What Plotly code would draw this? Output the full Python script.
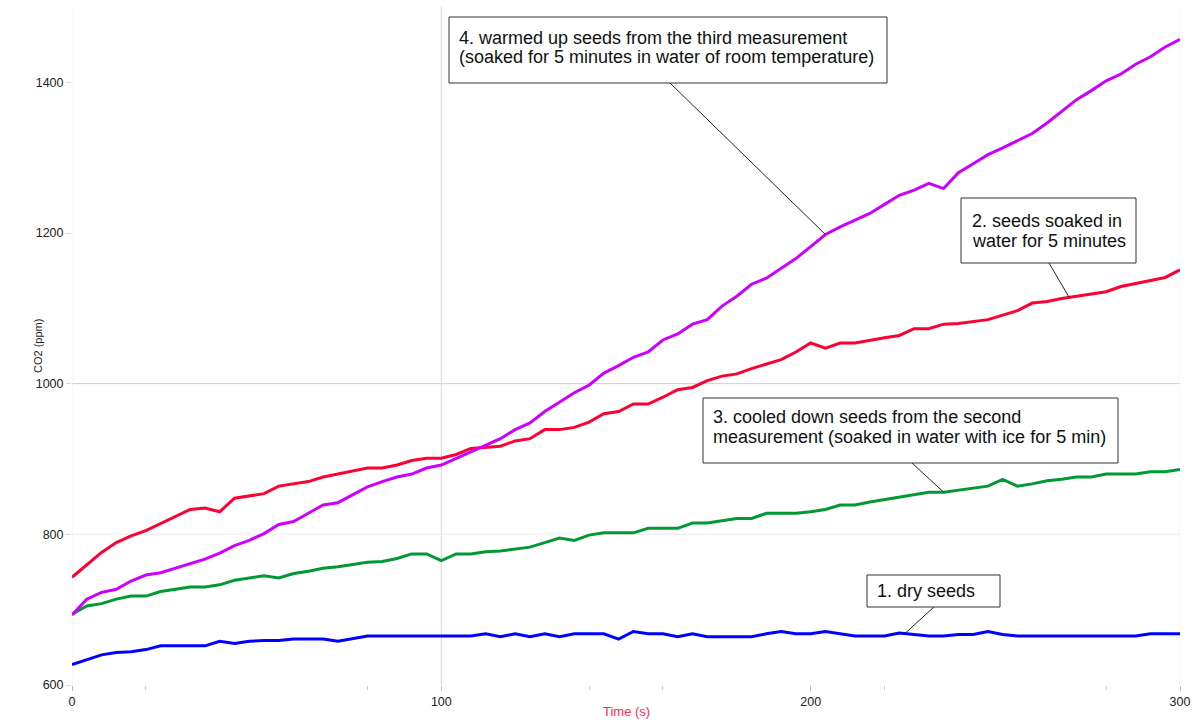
import numpy as np
import plotly.graph_objects as go

# time axis (s), samples every 4 s
T = list(range(0, 301, 4))

dry_seeds = [627, 633, 640, 643, 644, 647, 652, 652, 652, 652,
             658, 655, 658, 659, 659, 661, 661, 661, 658, 662,
             665, 665, 665, 665, 665, 665, 665, 665, 668, 664,
             668, 664, 668, 664, 668, 668, 668, 661, 671, 668,
             668, 664, 668, 664, 664, 664, 664, 668, 671, 668,
             668, 671, 668, 665, 665, 665, 669, 667, 665, 665,
             667, 667, 671, 667, 665, 665, 665, 665, 665, 665,
             665, 665, 665, 668, 668, 668]

soaked = [743, 759, 776, 789, 798, 805, 814, 823, 833, 835,
          830, 848, 851, 854, 864, 867, 870, 876, 880, 883,
          888, 888, 892, 898, 901, 901, 906, 914, 916, 917,
          924, 927, 939, 939, 942, 949, 960, 963, 973, 973,
          982, 992, 995, 1004, 1010, 1013, 1020, 1026, 1032, 1042,
          1054, 1047, 1054, 1054, 1058, 1061, 1064, 1073, 1073, 1079,
          1080, 1082, 1085, 1091, 1097, 1107, 1109, 1113, 1116, 1119,
          1122, 1129, 1133, 1138, 1141, 1151]

cooled = [694, 705, 708, 714, 718, 718, 724, 727, 730, 730,
          733, 739, 742, 745, 742, 748, 751, 755, 757, 760,
          763, 764, 768, 774, 774, 765, 774, 774, 777, 778,
          780, 783, 789, 795, 792, 799, 802, 802, 802, 808,
          808, 808, 815, 815, 818, 821, 821, 828, 828, 828,
          830, 833, 839, 839, 843, 846, 850, 853, 856, 856,
          859, 862, 864, 873, 864, 867, 871, 873, 876, 876,
          880, 880, 880, 883, 883, 886]

warmed = [693, 714, 723, 727, 738, 746, 749, 755, 760, 767,
          775, 785, 792, 801, 813, 817, 828, 839, 842, 853,
          863, 870, 876, 880, 888, 892, 901, 909, 918, 927,
          939, 948, 963, 976, 988, 998, 1014, 1024, 1035, 1042,
          1058, 1066, 1079, 1085, 1103, 1116, 1132, 1140, 1153, 1166,
          1182, 1198, 1208, 1217, 1226, 1238, 1250, 1257, 1266, 1259,
          1280, 1292, 1304, 1313, 1322, 1332, 1346, 1361, 1377, 1389,
          1402, 1411, 1424, 1434, 1447, 1457]

x_ticks = [0, 100, 200, 300]
y_ticks = [600, 800, 1000, 1200, 1400]

labels = [["1. dry seeds"],
          ["2. seeds soaked in", "water for 5 minutes"],
          ["3. cooled down seeds from the second",
           "measurement (soaked in water with ice for 5 min)"],
          ["4. warmed up seeds from the third measurement",
           "(soaked for 5 minutes in water of room temperature)"]]

FONT = "Arial, 'Liberation Sans', sans-serif"

# layout geometry (pixels)
W, H = 1194, 720
ML, MR, MT, MB = 72, 14, 7, 35
XR = (0, 300)
YR = (600, 1500)


def px2t(px):
    return XR[0] + (px - ML) / (W - ML - MR) * (XR[1] - XR[0])


def py2v(py):
    return YR[1] - (py - MT) / (H - MT - MB) * (YR[1] - YR[0])


fig = go.Figure()
series = [(dry_seeds, "#0000ff"), (cooled, "#009933"), (soaked, "#ff0033"), (warmed, "#cc00ff")]
for ys, col in series:
    fig.add_trace(go.Scatter(x=T, y=ys, mode="lines",
                             line=dict(color=col, width=3), showlegend=False))

# reference lines
shapes = [
    dict(type="line", xref="x", yref="paper", x0=100, x1=100, y0=0, y1=1,
         line=dict(color="#d6d6d6", width=1), layer="below"),
    dict(type="line", xref="paper", yref="y", x0=0, x1=1, y0=1000, y1=1000,
         line=dict(color="#cfcfcf", width=1), layer="below"),
    dict(type="line", xref="paper", yref="y", x0=0, x1=1, y0=800, y1=800,
         line=dict(color="#ececec", width=1), layer="below"),
    dict(type="line", xref="x", yref="paper", x0=300, x1=300, y0=0, y1=1,
         line=dict(color="#f2f2f2", width=1), layer="below"),
    dict(type="line", xref="x", yref="paper", x0=0, x1=0, y0=0, y1=1,
         line=dict(color="#f0f0f0", width=1), layer="below"),
]


def on(series_vals, t):
    return float(np.interp(t, T, series_vals))


# leader lines: box edge (pixels) -> point on the curve (time)
leaders = [
    ((935, 606), 225.5, dry_seeds),
    ((1049, 263), 270.0, soaked),
    ((912, 463), 236.0, cooled),
    ((670, 83), 204.0, warmed),
]
for (bx, by), t, vals in leaders:
    shapes.append(dict(type="line", xref="x", yref="y", x0=px2t(bx), y0=py2v(by),
                       x1=t, y1=on(vals, t), line=dict(color="#222222", width=1)))

# boxes: (left, right, top, bottom, text-left, first line centre, line pitch) in pixels
boxes = [
    (867, 1000, 575, 607, 875, 591, 20),
    (961, 1136, 198, 263, 970, 220.5, 20),
    (703, 1118, 398, 463, 711, 417, 20),
    (449, 887, 17, 83, 457, 37.5, 19.5),
]
annotations = []
for (l, r, t, b, tx, c0, pitch), lines in zip(boxes, labels):
    shapes.append(dict(type="rect", xref="x", yref="y", x0=px2t(l), x1=px2t(r),
                       y0=py2v(b), y1=py2v(t), fillcolor="#ffffff",
                       line=dict(color="#333333", width=1), layer="above"))
    for i, line in enumerate(lines):
        annotations.append(dict(x=px2t(tx), y=py2v(c0 + i * pitch), xref="x", yref="y",
                                text=line, showarrow=False, xanchor="left", yanchor="middle",
                                font=dict(family=FONT, size=18, color="#111111")))

# axis titles
annotations.append(dict(text="Time (s)", xref="paper", yref="paper", x=0.5, y=0,
                        yshift=-26, xanchor="center", yanchor="middle", showarrow=False,
                        font=dict(family=FONT, size=13, color="#ff2a55")))
annotations.append(dict(text="CO2 (ppm)", xref="paper", yref="paper", x=0, y=0.5,
                        xshift=-34, xanchor="center", yanchor="middle", showarrow=False,
                        textangle=-90, font=dict(family=FONT, size=11, color="#222222")))

fig.update_layout(
    width=W, height=H,
    margin=dict(l=ML, r=MR, t=MT, b=MB),
    paper_bgcolor="white", plot_bgcolor="white",
    font=dict(family=FONT, color="#222222"),
    shapes=shapes, annotations=annotations,
    xaxis=dict(range=list(XR), tickvals=x_ticks, showgrid=False, zeroline=False,
               showline=False, ticks="outside", ticklen=5, tickcolor="#bbbbbb",
               automargin=False,
               tickfont=dict(size=12.5, color="#222222"),
               minor=dict(tickvals=[20, 80, 140, 160, 220, 280], ticks="outside",
                          ticklen=4, tickcolor="#cccccc")),
    yaxis=dict(range=list(YR), tickvals=y_ticks, showgrid=False, zeroline=False,
               showline=False, ticks="outside", ticklen=5, tickcolor="#d8d8d8",
               automargin=False,
               tickfont=dict(size=12.5, color="#222222")),
)

fig.write_html("out.html")
